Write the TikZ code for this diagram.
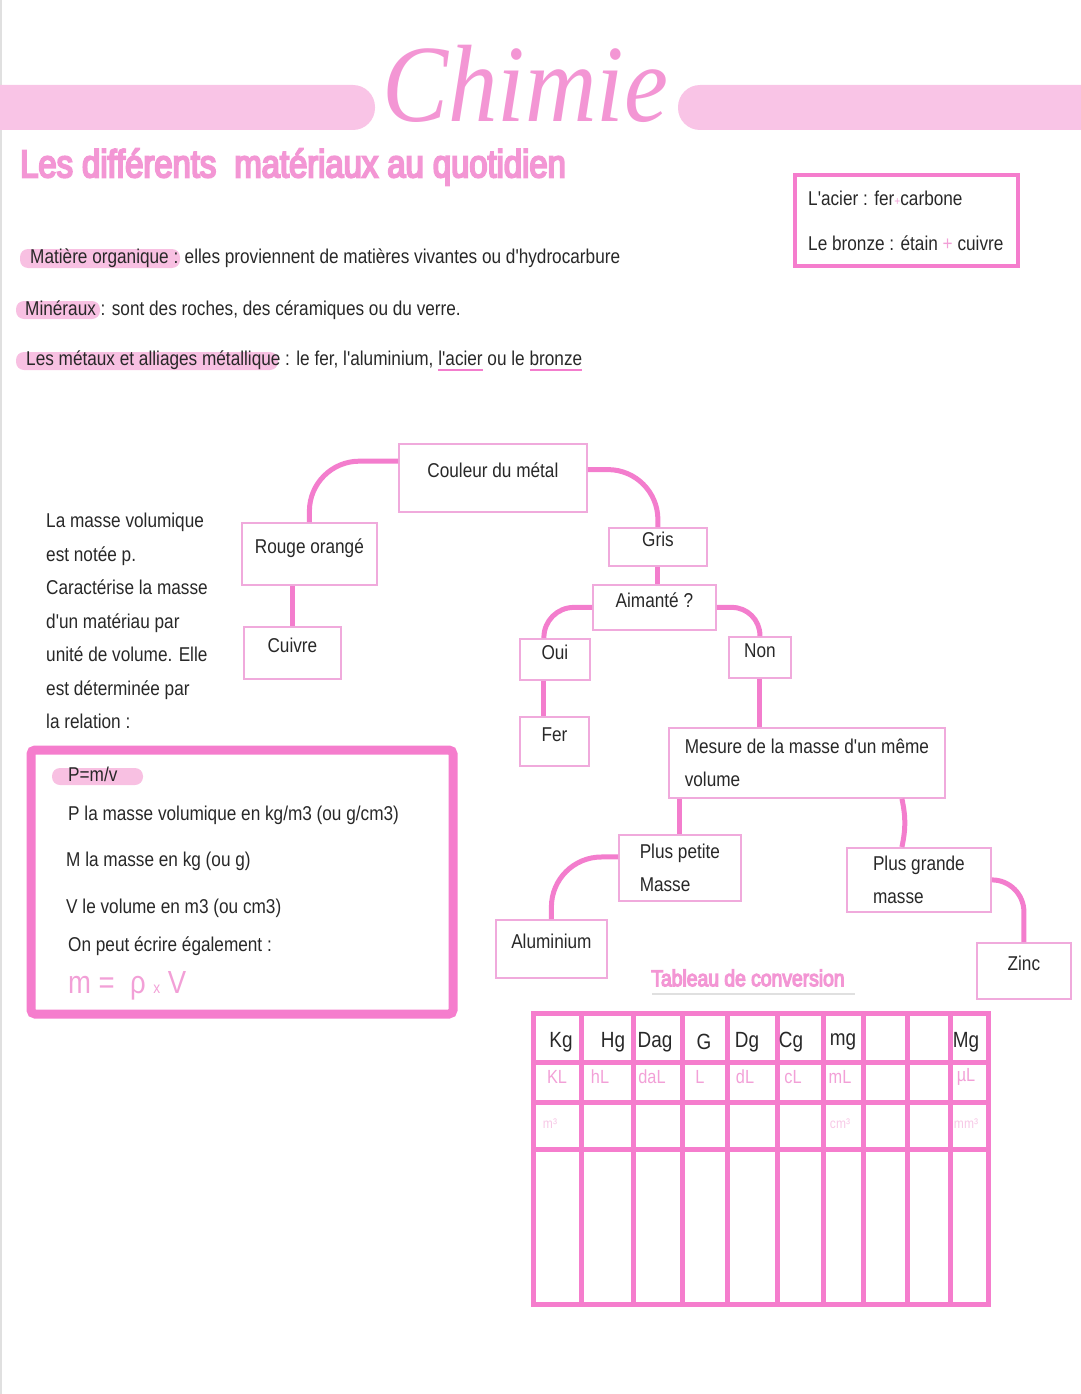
\documentclass[tikz,border=0pt]{standalone}
\usepackage{fontspec}
\setmainfont{Liberation Sans}
\newfontfamily\handfont{Liberation Sans}[FakeStretch=0.86]
\newfontfamily\rubricfont{Liberation Sans}[FakeStretch=0.84, FakeBold=5]
\newfontfamily\chimiefont{Liberation Serif}[FakeStretch=0.9]

\definecolor{barpink}{RGB}{249,196,230}
\definecolor{titlepink}{RGB}{243,150,212}
\definecolor{boxpink}{RGB}{240,170,220}
\definecolor{linkpink}{RGB}{243,125,205}
\definecolor{framepink}{RGB}{245,125,205}
\definecolor{hlpink}{RGB}{248,192,226}
\definecolor{unitpink}{RGB}{242,160,215}
\definecolor{palepink}{RGB}{247,200,230}
\definecolor{ink}{RGB}{40,40,40}

\newcommand\pinkul[1]{\setbox0\hbox{#1}\rlap{\color{linkpink}\rule[-5pt]{\wd0}{1.5pt}}\box0}

\tikzset{
  txt/.style={anchor=west, inner sep=0pt, text=ink, font=\handfont\fontsize{20}{33.5}\selectfont},
  treebox/.style={draw=boxpink, line width=1.8pt, anchor=north west, inner sep=2pt, align=left,
    text=ink, font=\handfont\fontsize{20}{33.5}\selectfont},
  onebox/.style={treebox, text height=13pt, text depth=13pt},
  link/.style={draw=linkpink, line width=5pt},
  tabline/.style={draw=framepink, line width=5pt},
  cell/.style={inner sep=0pt, text=ink, font=\handfont\fontsize{22}{22}\selectfont}
}

\begin{document}
\begin{tikzpicture}[x=1pt,y=-1pt]
\useasboundingbox (0,0) rectangle (1080,1394);
\draw[black!12, line width=2pt] (1,0) -- (1,1394);

% en-tete
\fill[barpink, rounded corners=22pt] (-40,85) rectangle (375,130);
\fill[barpink, rounded corners=22pt] (678,85) rectangle (1120,130);
\node[anchor=base, inner sep=0pt, text=titlepink, font=\chimiefont\itshape\fontsize{110}{110}\selectfont] (chimie) at (525,122) {Chimie};
\node[anchor=west, inner sep=0pt, text=titlepink, font=\rubricfont\fontsize{39}{39}\selectfont] (rubrique) at (20,167) {Les différents\ \ matériaux au quotidien};

% alliages
\draw[framepink, line width=4pt] (795,175) rectangle (1018,266);
\node[txt] (acier) at (808,198) {L'acier : fer{\color{unitpink}\fontsize{12}{12}\selectfont+}carbone};
\node[txt] (bronze) at (808,243) {Le bronze : étain {\color{unitpink}+} cuivre};

% familles de materiaux
\fill[hlpink, rounded corners=8pt] (20,249) rectangle (180,268);
\fill[hlpink, rounded corners=8pt] (16,301) rectangle (100,319);
\fill[hlpink, rounded corners=8pt] (16,352) rectangle (278,370);
\node[txt] (organique) at (30,258) {Matière organique : elles proviennent de matières vivantes ou d'hydrocarbure};
\node[txt] (mineraux) at (25,310) {Minéraux : sont des roches, des céramiques ou du verre.};
\node[txt] (metaux) at (26,361) {Les métaux et alliages métallique : le fer, l'aluminium, \pinkul{l'acier}\ ou le \pinkul{bronze}};

% masse volumique
\node[txt, anchor=north west, align=left] (definition) at (46,513) {La masse volumique\\est notée p.\\Caractérise la masse\\d'un matériau par\\unité de volume. Elle\\est déterminée par\\la relation :};
\draw[framepink, line width=9pt, rounded corners=4pt] (31,750) rectangle (453,1014);
\fill[hlpink, rounded corners=8pt] (52,768) rectangle (143,785);
\node[txt] (rho) at (68,774) {P=m/v};
\node[txt] (ligne1) at (68,815) {P la masse volumique en kg/m3 (ou g/cm3)};
\node[txt] (ligne2) at (66,861) {M la masse en kg (ou g)};
\node[txt] (ligne3) at (66,908) {V le volume en m3 (ou cm3)};
\node[txt] (ligne4) at (68,946) {On peut écrire également :};
\node[txt, text=unitpink, font=\handfont\fontsize{32}{32}\selectfont] (formule) at (68,986) {m =\ \ ρ {\fontsize{16}{16}\selectfont x} V};

% arbre
\node[onebox, minimum width=188pt, minimum height=68pt] (couleur) at (398,443) {Couleur du métal};
\node[onebox, minimum width=135pt, minimum height=62pt] (rouge) at (241,522) {Rouge orangé};
\node[onebox, minimum width=97pt, minimum height=52pt] (cuivre) at (243,626) {Cuivre};
\node[onebox, minimum width=98pt, minimum height=38pt] (gris) at (608,527) {Gris};
\node[onebox, minimum width=123pt, minimum height=45pt] (aimante) at (592,584) {Aimanté ?};
\node[onebox, minimum width=70pt, minimum height=41pt] (oui) at (519,638) {Oui};
\node[onebox, minimum width=62pt, minimum height=41pt] (non) at (728,636) {Non};
\node[onebox, minimum width=69pt, minimum height=49pt] (fer) at (519,716) {Fer};
\node[treebox, minimum width=276pt, minimum height=70pt] (mesure) at (668,727) {Mesure de la masse d'un même\\volume};
\node[treebox, minimum width=122pt, minimum height=66pt] (petite) at (618,834) {Plus petite\\Masse};
\node[treebox, minimum width=144pt, minimum height=64pt] (grande) at (846,847) {Plus grande\\masse};
\node[onebox, minimum width=111pt, minimum height=58pt] (alu) at (495,919) {Aluminium};
\node[onebox, minimum width=94pt, minimum height=56pt] (zinc) at (976,942) {Zinc};

\draw[link, rounded corners=50pt] (couleur.170) -| (rouge.north);
\draw[link, rounded corners=50pt] (couleur.5) -| (gris.north);
\draw[link] (cuivre.north |- rouge.south) -- (cuivre.north);
\draw[link] (gris.south) -- (gris.south |- aimante.north);
\draw[link, rounded corners=30pt] (aimante.west) -| ([xshift=-11pt]oui.north);
\draw[link, rounded corners=28pt] (aimante.east) -| (non.north);
\draw[link] ([xshift=-11pt]oui.south) -- ([xshift=-11pt]oui.south |- fer.north);
\draw[link] (non.south) -- (non.south |- mesure.north);
\draw[link] (petite.north |- mesure.south) -- (petite.north);
\draw[link] ([xshift=-17pt]grande.north |- mesure.south) to[bend left=12] ([xshift=-17pt]grande.north);
\draw[link, rounded corners=50pt] (petite.170) -| (alu.north);
\draw[link, rounded corners=32pt] (grande.east) -| (zinc.north);

% tableau de conversion
\node[inner sep=0pt, text=titlepink, font=\rubricfont\fontsize{23}{23}\selectfont] (tableau) at (748,978) {Tableau de conversion};
\draw[black!12, line width=2pt] (652,994) -- (855,994);
\draw[tabline] (533,1013) rectangle (988,1304);
\foreach \x in {581,633,682,727,777,823,863,907,950}
  \draw[tabline] (\x,1013) -- (\x,1304);
\foreach \y in {1062,1102,1149}
  \draw[tabline] (533,\y) -- (988,\y);
\foreach \x/\t [count=\i] in {561/Kg,613/Hg,655/Dag,704/G,747/Dg,791/Cg,843/mg,966/Mg}
  \node[cell] (masse\i) at (\x,1042) {\t};
\foreach \x/\t [count=\i] in {557/KL,600/hL,652/daL,700/L,745/dL,793/cL,840/mL,966/µL}
  \node[cell, text=unitpink, font=\handfont\fontsize{19}{19}\selectfont] (litre\i) at (\x,1077) {\t};
\foreach \x/\t [count=\i] in {550/m³,840/cm³,966/mm³}
  \node[cell, text=palepink, font=\handfont\fontsize{14}{14}\selectfont] (cube\i) at (\x,1124) {\t};
\end{tikzpicture}
\end{document}
